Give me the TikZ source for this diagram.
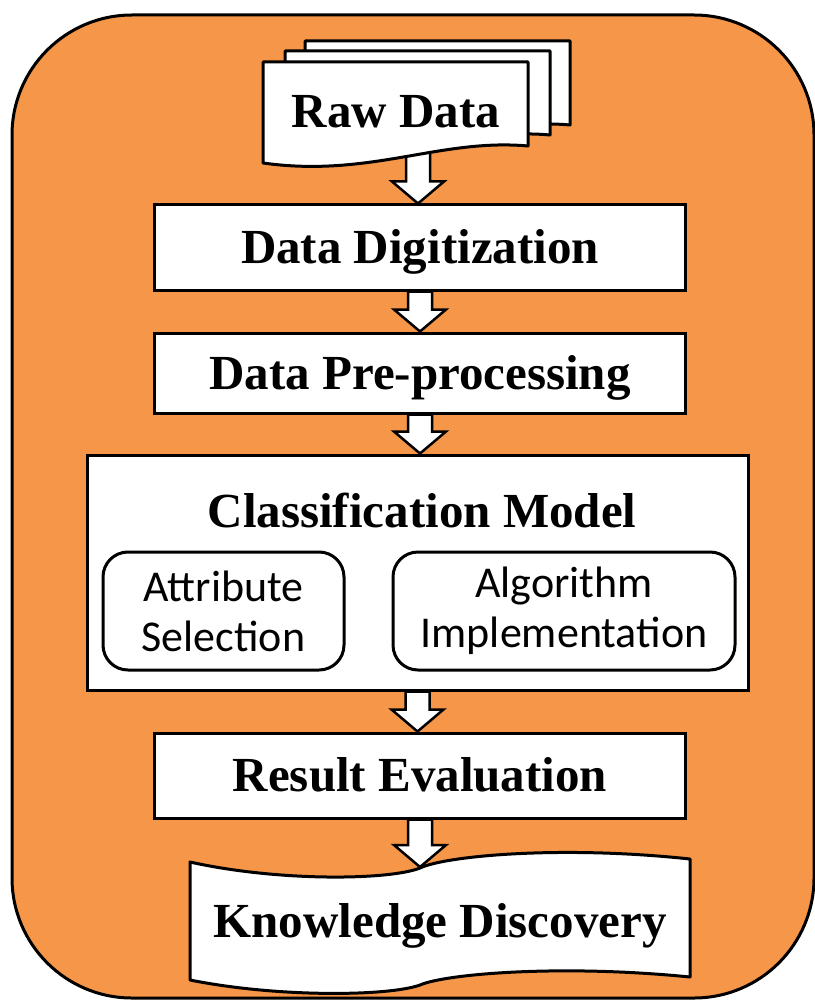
\documentclass[tikz,border=0pt]{standalone}
\usepackage{fontspec}
\setmainfont{Liberation Serif}
\setsansfont{Carlito}
\usetikzlibrary{calc}
\definecolor{bgorange}{HTML}{F59648}
\tikzset{
  outer/.style={draw, line width=3pt, fill=bgorange, rounded corners=120pt},
  stepbox/.style={draw, line width=3pt, fill=white, minimum width=531pt, minimum height=85pt, inner sep=0pt, text height=32pt, text depth=0pt, font=\fontsize{49}{52}\selectfont\bfseries},
  bigbox/.style={draw, line width=3pt, fill=white, inner sep=0pt},
  subbox/.style={draw, line width=3pt, fill=white, rounded corners=25pt, inner sep=0pt, align=center, font=\fontsize{44}{50}\selectfont\sffamily},
  docline/.style={draw, line width=3pt, fill=white, line join=round},
  barrow/.style={draw, line width=2.5pt, fill=white, line join=miter},
  lbl/.style={inner sep=0pt, text height=32pt, text depth=0pt, font=\fontsize{49}{52}\selectfont\bfseries}
}
\newcommand\blockarrow[2]{%
  \draw[barrow] let \p1=(#1), \p2=(#2) in
    (\x1-12pt,\y1) -- (\x1+12pt,\y1) -- (\x1+12pt,\y2+22pt) -- (\x1+26pt,\y2+22pt)
    -- (\x1,\y2) -- (\x1-26pt,\y2+22pt) -- (\x1-12pt,\y2+22pt) -- cycle;}
\begin{document}
\begin{tikzpicture}[x=1pt,y=-1pt]
\useasboundingbox (0,0) rectangle (814,1000);
\draw[outer] (12,15) rectangle (814,998);

% process boxes
\node[stepbox] (dig) at (420,247.5) {Data Digitization};
\node[stepbox, minimum height=80pt] (pre) at (420,373) {Data Pre-processing};
\node[bigbox, minimum width=661pt, minimum height=235pt] (cls) at (417.5,572.5) {};
\node[lbl] (clst) at (422,511) {Classification Model};
\node[subbox, minimum width=241pt, minimum height=118pt] (attr) at (223.5,611) {Attribute\\Selection};
\node[subbox, minimum width=342pt, minimum height=118pt] (algo) at (564,611) {Algorithm\\Implementation};
\node[stepbox] (res) at (420,775.5) {Result Evaluation};

% knowledge discovery (tape)
\draw[docline] (190,862) .. controls (280,882) and (390,880) .. (420,868)
  .. controls (445,856) and (560,845) .. (690,859)
  -- (690,977) .. controls (560,964) and (445,974) .. (420,985)
  .. controls (390,996) and (280,998) .. (190,980) -- cycle;
\node[lbl] (kd) at (440,921) {Knowledge Discovery};
\coordinate (kdtop) at (418,867);

% raw data
\coordinate (rawbot) at (418,150);
\blockarrow{rawbot}{dig.north}
\foreach \dx/\dy in {42/-21,22/-11,0/0}{
  \draw[docline, shift={(\dx,\dy)}] (263,62) -- (528,62) -- (528,146)
    .. controls (440,138) and (370,178) .. (263,163) -- cycle;
}
\node[lbl] (raw) at (396,112) {Raw Data};

% connectors
\blockarrow{dig.south}{pre.north}
\blockarrow{pre.south}{cls.north}
\blockarrow{cls.south}{res.north}
\blockarrow{res.south}{kdtop}
\end{tikzpicture}
\end{document}
